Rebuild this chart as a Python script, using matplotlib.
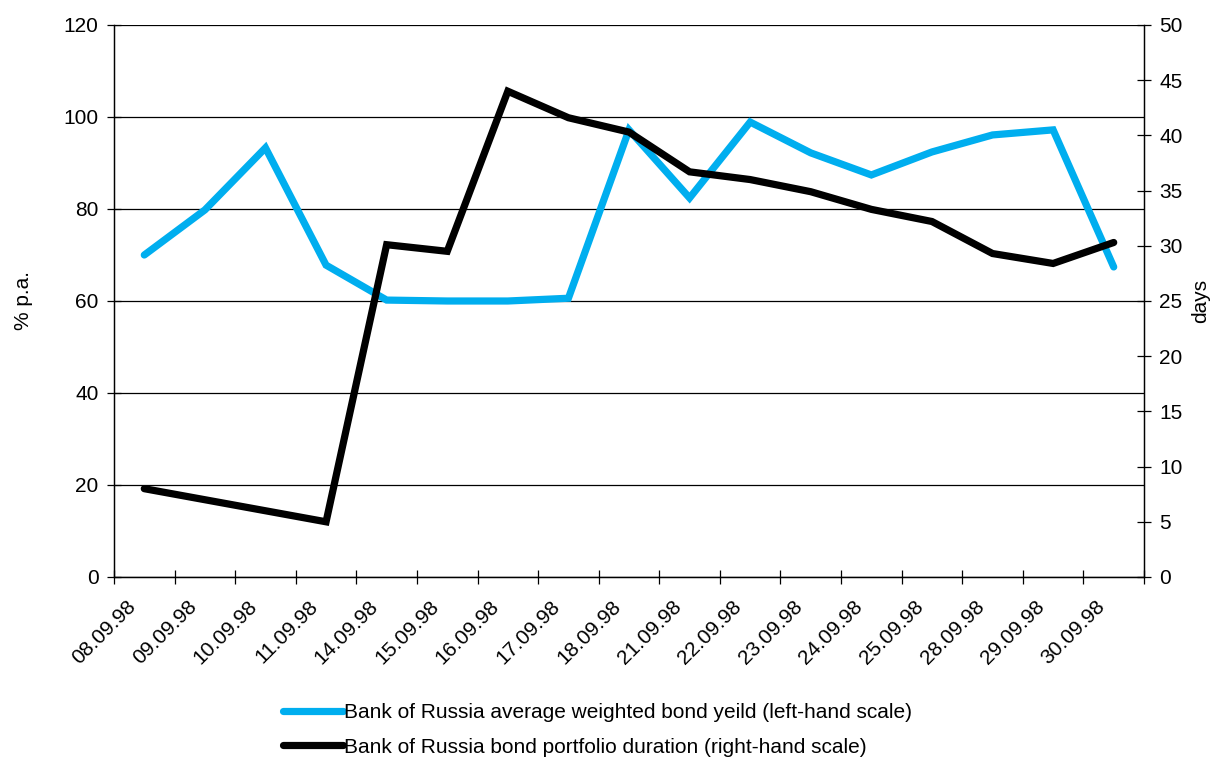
import numpy as np
import matplotlib
matplotlib.use("Agg")
import matplotlib.pyplot as plt

plt.rcParams['font.family'] = ['Liberation Sans', 'DejaVu Sans']

dates = ["08.09.98", "09.09.98", "10.09.98", "11.09.98", "14.09.98", "15.09.98",
         "16.09.98", "17.09.98", "18.09.98", "21.09.98", "22.09.98", "23.09.98",
         "24.09.98", "25.09.98", "28.09.98", "29.09.98", "30.09.98"]
# average weighted bond yield, % p.a. (left scale)
yield_pct = [70.0, 79.8, 93.3, 67.8, 60.2, 60.0, 60.0, 60.6, 97.2, 82.4,
             98.9, 92.2, 87.4, 92.4, 96.1, 97.2, 67.4]
# bond portfolio duration, days (right scale)
duration = [8.0, 7.0, 6.0, 5.0, 30.1, 29.5, 44.0, 41.6, 40.3, 36.7,
            36.0, 34.9, 33.3, 32.2, 29.3, 28.4, 30.3]

lab_yield = "Bank of Russia average weighted bond yeild (left-hand scale)"
lab_dur = "Bank of Russia bond portfolio duration (right-hand scale)"

blue = "#00aeef"
fs = 15

fig = plt.figure(figsize=(12.14, 7.63), dpi=100)
ax = fig.add_axes([114/1214, 1-577/763, (1144-114)/1214, (577-25)/763])
ax2 = ax.twinx()

x = np.arange(len(dates))
l1, = ax.plot(x, yield_pct, color=blue, lw=5.2, solid_joinstyle='miter',
              solid_capstyle='round', label=lab_yield, zorder=3)
l2, = ax2.plot(x, duration, color="black", lw=5.2, solid_joinstyle='miter',
               solid_capstyle='round', label=lab_dur, zorder=3)

ax.set_xlim(-0.5, len(dates) - 0.5)
ax.set_ylim(0, 120)
ax.set_yticks(np.arange(0, 121, 20))
ax2.set_ylim(0, 50)
ax2.set_yticks(np.arange(0, 51, 5))

ax.grid(axis='y', color='black', lw=0.9)
ax.set_axisbelow(True)

# category boundaries as ticks, rotated labels placed by hand
ax.set_xticks(np.arange(-0.5, len(dates) + 0.5, 1))
ax.set_xticklabels([])
for i, d in enumerate(dates):
    ax.annotate(d, xy=(i - 0.3, 0), xycoords=('data', 'axes fraction'),
                xytext=(0, -20), textcoords='offset pixels',
                rotation=45, ha='right', va='top', rotation_mode='anchor',
                fontsize=fs)

for a in (ax, ax2):
    a.spines['top'].set_visible(False)
    for s in a.spines.values():
        s.set_linewidth(0.9)
ax.tick_params(axis='both', direction='inout', length=10, width=0.9,
               labelsize=fs, pad=6)
ax2.tick_params(axis='y', direction='inout', length=10, width=0.9,
                labelsize=fs, pad=6)

ax.set_ylabel("% p.a.", fontsize=fs, labelpad=22)
ax2.set_ylabel("days", fontsize=fs, labelpad=6)

fig.legend([l1, l2], [lab_yield, lab_dur], loc='upper left',
           bbox_to_anchor=(283/1214, 1-703/763), frameon=False, fontsize=fs,
           handlelength=2.9, handletextpad=0.05, labelspacing=0.75,
           borderpad=0, borderaxespad=0)

fig.savefig("out.png", dpi=100)
